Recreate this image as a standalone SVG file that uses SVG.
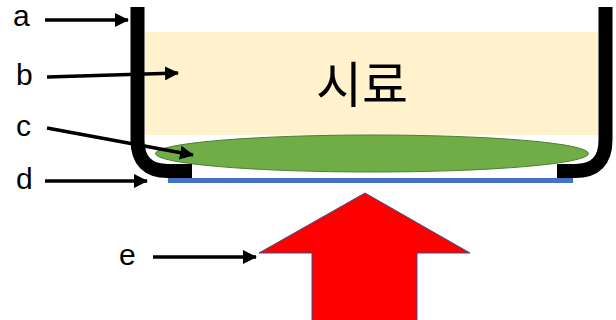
<svg xmlns="http://www.w3.org/2000/svg" width="616" height="320" viewBox="0 0 616 320">
<defs>
<marker id="ah" markerUnits="userSpaceOnUse" markerWidth="14" markerHeight="14" viewBox="0 0 14 14" refX="13" refY="7" orient="auto">
<path d="M0,0 L14,7 L0,14 z" fill="#000"/>
</marker>
</defs>
<style>
.lbl{font-family:"Liberation Sans",Arial,sans-serif;font-size:30px;fill:#000}
.ptr{stroke:#000;stroke-width:3.5;fill:none;marker-end:url(#ah)}
.wall{stroke:#000;stroke-width:14;fill:none}
</style>
<g id="sample">
<rect x="145" y="32" width="453" height="103" fill="#FFF2CC"/>
<text x="362" y="103" text-anchor="middle" font-family="'Noto Sans CJK KR','Noto Sans',sans-serif" font-size="50" fill="#000">시료</text>
</g>
<g id="film">
<ellipse cx="372" cy="153.5" rx="216.5" ry="18.5" fill="#70AD47" stroke="#507E32" stroke-width="1"/>
</g>
<g id="window">
<line x1="168" y1="180.5" x2="573" y2="180.5" stroke="#4472C4" stroke-width="5"/>
</g>
<g id="dish">
<path class="wall" d="M137.5,7 V140 Q137.5,171 168,171 H192"/>
<path class="wall" d="M605.5,7 V140 Q605.5,171 575,171 H557"/>
</g>
<g id="beam">
<polygon points="365,193 470,253 417,253 417,321 312,321 312,253 259,253" fill="#FF0000" stroke="#2F528F" stroke-width="1"/>
</g>
<g id="labels">
<text class="lbl" x="13" y="26">a</text>
<text class="lbl" x="16" y="85">b</text>
<text class="lbl" x="16" y="136">c</text>
<text class="lbl" x="16" y="189">d</text>
<text class="lbl" x="119" y="265">e</text>
</g>
<g id="connectors">
<line class="ptr" x1="45" y1="20" x2="128" y2="20"/>
<line class="ptr" x1="47" y1="77" x2="178" y2="73"/>
<line class="ptr" x1="47" y1="128" x2="193" y2="155"/>
<line class="ptr" x1="45" y1="181" x2="147" y2="181"/>
<line class="ptr" x1="153" y1="257" x2="256" y2="257"/>
</g>
</svg>
